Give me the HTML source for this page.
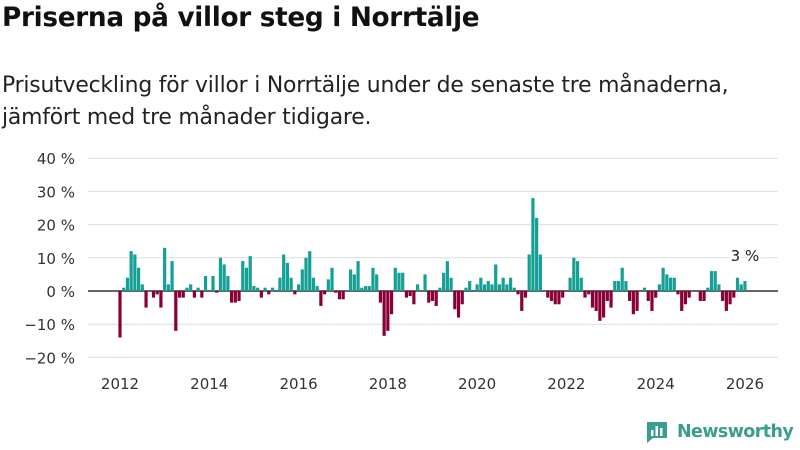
<!DOCTYPE html>
<html><head><meta charset="utf-8"><style>
body{margin:0;width:800px;height:450px;background:#fff;font-family:"Liberation Sans","DejaVu Sans",sans-serif;overflow:hidden}
.t{position:absolute;left:2px;top:3px;font-size:26.3px;font-weight:bold;color:#111;font-family:"DejaVu Sans",sans-serif;letter-spacing:-0.3px}
.s{position:absolute;left:2px;top:70px;font-size:21.9px;line-height:32px;color:#222;font-family:"DejaVu Sans",sans-serif;letter-spacing:-0.2px;white-space:nowrap}
</style></head><body>
<div class="t">Priserna på villor steg i Norrtälje</div>
<div class="s">Prisutveckling för villor i Norrtälje under de senaste tre månaderna,<br>jämfört med tre månader tidigare.</div>
<svg id="c" width="800" height="450" style="position:absolute;left:0;top:0"></svg>
<script>
const values=[-14,1,4,12,11,7,2,-5,0,-2,-1,-5,13,2,9,-12,-2,-2,1,2,-2,1,-2,4.5,0,4.5,-0.5,10,8,4.5,-3.5,-3.5,-3,9,7,10.5,1.5,1,-2,1,-1,1,
0,4,11,8.5,4,-1,2,6.5,10,12,4,1.5,-4.5,-1,3.5,7,-0.5,-2.5,-2.5,0.3,6.5,5,9,1,1.5,1.5,7,5,-3.5,-13.5,-12,-7,7,5.5,5.5,-2,-1.5,-4,2,0,5,-3.5,-3,-4.5,
1,5.5,9,4,-5.5,-8,-4,1,3,0,2,4,2,3,2,8,2,4,2,4,1,-1,-6,-2,11,28,22,11,0,-2,-3,-4,-4,-2,0,4,10,9,4,-2,-1,-5,-6,-9,-8,-3,
-5,3,3,7,3,-3,-7,-6,0,1,-3,-6,-2,2,7,5,4,4,-1,-6,-4,-2,0,0,-3,-3,1,6,6,2,-3,-6,-4,-2,4,2,3];
const startYear=2012;
const yTicks=[40,30,20,10,0,-10,-20];
const xTicks=[2012,2014,2016,2018,2020,2022,2024,2026];
const lastLabel="3 %";
const NS="http://www.w3.org/2000/svg";
const svg=document.getElementById('c');
const y=v=>291-v*3.32;
const x=yr=>120+(yr-2012)*44.64;
function mk(t,a,txt){const e=document.createElementNS(NS,t);for(const k in a)e.setAttribute(k,a[k]);if(txt!==undefined)e.textContent=txt;svg.appendChild(e);return e;}
yTicks.forEach(v=>{
 const g=mk('line',{x1:88,x2:778,y1:y(v),y2:y(v),stroke:v===0?'#333':'#ddd','stroke-width':v===0?1.6:1});
 
 
 const t=mk('text',{x:75,y:y(v)+6,'text-anchor':'end','font-size':15,fill:'#333','font-family':'DejaVu Sans, sans-serif'},(v<0?'−':'')+Math.abs(v)+' %');
 
 
});
xTicks.forEach(yr=>{
 const t=mk('text',{x:x(yr),y:389,'text-anchor':'middle','font-size':15,fill:'#333','font-family':'DejaVu Sans, sans-serif'},yr);
 
 
});
values.forEach((v,i)=>{
 const cx=x(startYear+i/12);
 const r=mk('rect',{x:cx-1.6,width:3.2,y:Math.min(y(v),y(0)),height:Math.abs(y(v)-y(0)),fill:v>=0?'#15a096':'#8a0036'});
 
 
});
const li=values.length-1;
const lb=mk('text',{x:x(startYear+li/12),y:y(values[li])-20,'text-anchor':'middle','font-size':15,fill:'#222',stroke:'#fff','stroke-width':4,'paint-order':'stroke','font-family':'DejaVu Sans, sans-serif'},lastLabel);


</script>
<div style="position:absolute;left:645px;top:420px;display:flex;align-items:center">
<svg width="24" height="24" viewBox="0 0 24 24"><path d="M2 2h20v16H8l-6 5z" fill="#3a9e8e"/><rect x="6" y="10" width="2.5" height="6" fill="#fff"/><rect x="10.5" y="6" width="2.5" height="10" fill="#fff"/><rect x="15" y="8" width="2.5" height="8" fill="#fff"/></svg>
<span style="font-size:17.5px;font-weight:bold;color:#3a9e8e;margin-left:8px;font-family:'DejaVu Sans',sans-serif;letter-spacing:-0.6px">Newsworthy</span></div>
</body></html>
